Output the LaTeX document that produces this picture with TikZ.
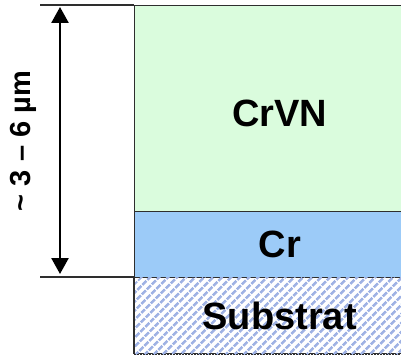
\documentclass[tikz,border=0pt]{standalone}
\usepackage{fontspec}
\setmainfont{Liberation Sans}
\usepackage{tikz}
\usetikzlibrary{arrows.meta,patterns.meta}

\definecolor{crvngreen}{HTML}{DAFCDD}
\definecolor{crblue}{HTML}{9CCBF8}
\definecolor{hatchblue}{HTML}{9FB2E4}
\definecolor{edgegray}{HTML}{2E2E2E}

\tikzset{
  layer/.style={draw=edgegray,line width=1.4pt,anchor=north west,inner sep=0pt,
    minimum width=290pt},
  layertext/.style={font=\bfseries\fontsize{38}{42}\selectfont,inner sep=0pt},
  dimline/.style={line width=2.6pt,{Triangle[width=17pt,length=16pt]}-{Triangle[width=17pt,length=16pt]}},
  refline/.style={line width=1.4pt,edgegray}
}

\begin{document}
\begin{tikzpicture}[x=1pt,y=-1pt]
    \pgfmathsetmacro{\xl}{134}
    \pgfmathsetmacro{\ya}{5}
    \pgfmathsetmacro{\yb}{211}
    \pgfmathsetmacro{\yc}{277}
    \pgfmathsetmacro{\yd}{353}
    \useasboundingbox (0,0) rectangle (401,355);

    % Draw the layer stack
    \node [layer,fill=crvngreen,minimum height=\yb-\ya] (crvn) at (\xl,\ya) {};
    \node [layer,fill=crblue,minimum height=\yc-\yb] (cr) at (\xl,\yb) {};
    \node [layer,fill=white,minimum height=\yd-\yc] (sub) at (\xl,\yc) {};
    \fill [pattern={Lines[angle=45,distance=6.5pt,line width=3pt]},pattern color=hatchblue]
        (sub.north west) rectangle (sub.south east);
    \draw [edgegray,line width=1.4pt,dash pattern=on 2pt off 1pt] (sub.south west) -- (sub.south east);
    \draw [edgegray,line width=1.4pt] (sub.north west) -- (sub.south west);

    % Layer names
    \node [layertext] (crvnname) at ([yshift=-4.5]crvn.center) {CrVN};
    \node [layertext] (crname) at (cr.center) {Cr};
    \node [layertext] (subname) at (sub.center) {Substrat};

    % Draw the thickness
    \coordinate (topend) at (40,\ya);
    \coordinate (botend) at (40,\yc);
    \draw [refline] (topend) -- (crvn.north west);
    \draw [refline] (botend) -- (sub.north west);
    \coordinate (dimtop) at (60,\ya+2);
    \coordinate (dimbot) at (60,\yc-3);
    \draw [dimline] (dimtop) -- (dimbot);
    \node [font=\bfseries\fontsize{29}{34}\selectfont,rotate=90,inner sep=0pt] (thick) at (23,141) {\textasciitilde\ 3 – 6 µm};

\end{tikzpicture}
\end{document}
